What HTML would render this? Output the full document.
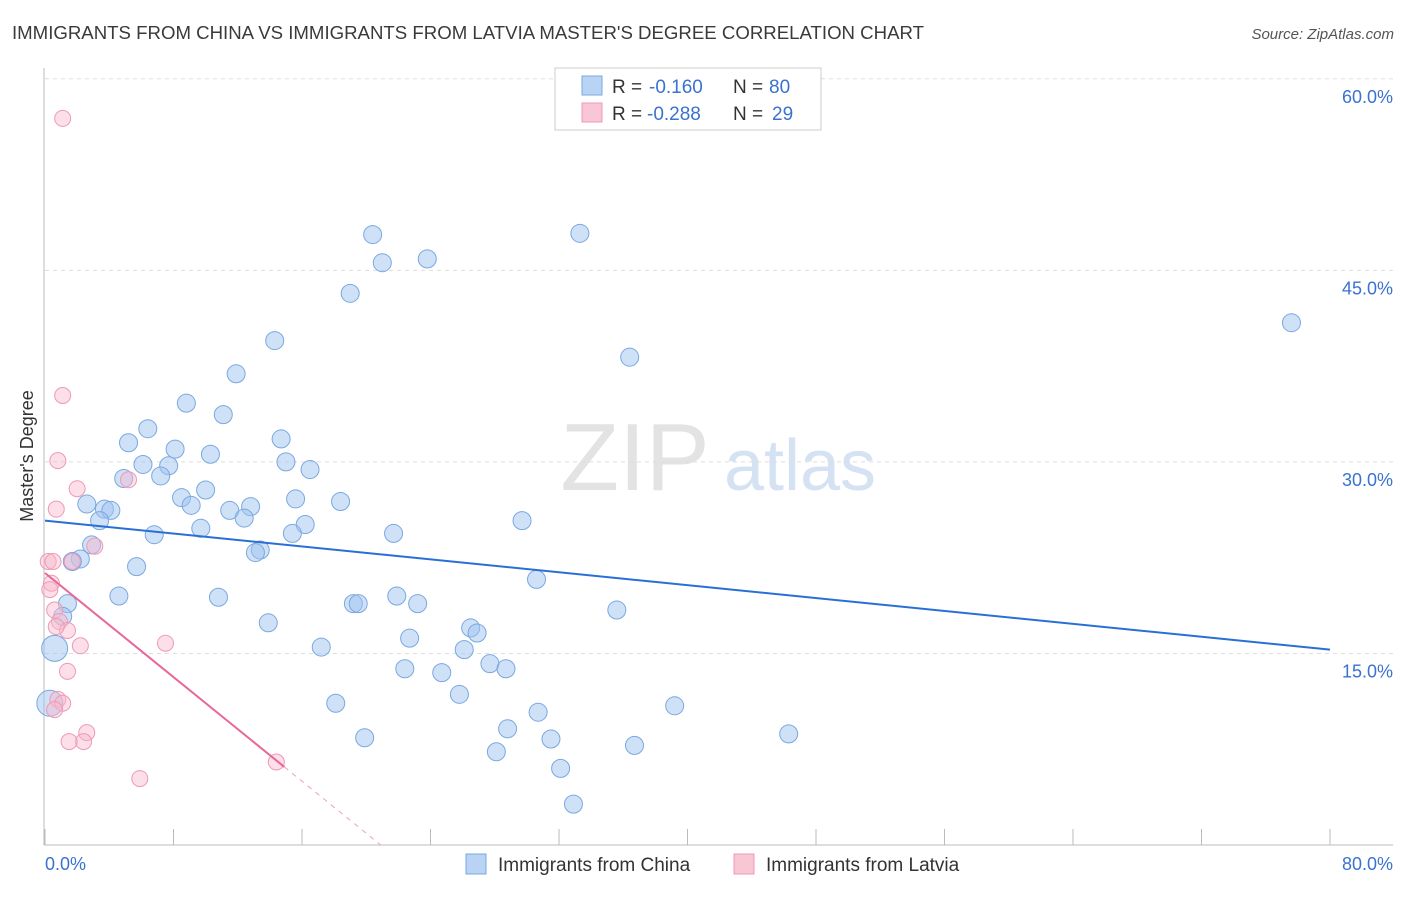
<!DOCTYPE html>
<html><head><meta charset="utf-8"><style>
body{margin:0;background:#fff;font-family:"Liberation Sans",sans-serif;}
svg text{font-family:"Liberation Sans",sans-serif;}
</style></head><body>
<svg id="chart" width="1406" height="892" xmlns="http://www.w3.org/2000/svg">
<text x="12" y="39" font-size="18.5" fill="#3a3a3a" textLength="912" lengthAdjust="spacingAndGlyphs">IMMIGRANTS FROM CHINA VS IMMIGRANTS FROM LATVIA MASTER'S DEGREE CORRELATION CHART</text>
<text x="1394" y="39" font-size="15" fill="#555" text-anchor="end" font-style="italic">Source: ZipAtlas.com</text>
<text transform="translate(33,456) rotate(-90)" font-size="18" fill="#333" text-anchor="middle">Master's Degree</text>
<g>
<text x="635" y="490" font-size="96" fill="#e3e3e3" text-anchor="middle" font-family="Liberation Serif">ZIP</text>
<text x="800" y="490" font-size="72" fill="#d5e2f3" text-anchor="middle">atlas</text>
</g>
<g id="grid"></g><g id="axes"></g><g id="marks"></g>
<g>
<rect x="555" y="68" width="266" height="62" fill="#fff" stroke="#ccc"/>
<rect x="582" y="76" width="20" height="19" fill="#b9d3f5" stroke="#7aa8e0"/>
<rect x="582" y="103" width="20" height="19" fill="#f9c6d6" stroke="#ee9ab5"/>
<text y="93" font-size="19" fill="#333"><tspan x="612">R =</tspan><tspan x="649" fill="#3a72d0">-0.160</tspan><tspan x="733">N =</tspan><tspan x="769" fill="#3a72d0">80</tspan></text>
<text y="120" font-size="19" fill="#333"><tspan x="612">R =</tspan><tspan x="647" fill="#3a72d0">-0.288</tspan><tspan x="733">N =</tspan><tspan x="772" fill="#3a72d0">29</tspan></text>
</g>
<g>
<rect x="466" y="854" width="20" height="20" fill="#b9d3f5" stroke="#7aa8e0"/>
<text x="498" y="871" font-size="19" fill="#333">Immigrants from China</text>
<rect x="734" y="854" width="20" height="20" fill="#f9c6d6" stroke="#ee9ab5"/>
<text x="766" y="871" font-size="19" fill="#333">Immigrants from Latvia</text>
</g>
</svg>
<script>
const yTicks=[15,30,45,60];
const yTickLabels=["15.0%","30.0%","45.0%","60.0%"];
const xTicks=[0,8,16,24,32,40,48,56,64,72,80];
const chinaX=[20.4,33.3,21.0,23.8,19.0,77.6,14.3,36.4,11.9,8.8,11.1,6.4,14.7,5.2,8.1,10.3,6.1,15.0,7.7,16.5,4.9,7.2,10.0,8.5,15.6,18.4,9.1,2.6,3.7,4.1,11.5,12.8,12.4,3.4,29.7,9.7,16.2,6.8,15.4,21.7,2.9,13.4,13.1,2.2,1.7,5.7,30.6,4.6,10.8,21.9,1.4,19.2,19.5,23.2,35.6,1.1,13.9,26.5,26.9,22.7,17.2,0.6,26.1,22.4,27.7,28.7,24.7,25.8,0.3,18.1,39.2,30.7,28.8,46.3,19.9,31.5,36.7,28.1,32.1,32.9];
const chinaY=[47.8,47.9,45.6,45.9,43.2,40.9,39.5,38.2,36.9,34.6,33.7,32.6,31.8,31.5,31.0,30.6,29.8,30.0,29.7,29.4,28.7,28.9,27.8,27.2,27.1,26.9,26.6,26.7,26.3,26.2,26.2,26.5,25.6,25.4,25.4,24.8,25.1,24.3,24.4,24.4,23.5,23.1,22.9,22.4,22.2,21.8,20.8,19.5,19.4,19.5,18.9,18.9,18.9,18.9,18.4,17.9,17.4,17.0,16.6,16.2,15.5,15.4,15.3,13.8,14.2,13.8,13.5,11.8,11.1,11.1,10.9,10.4,9.1,8.7,8.4,8.3,7.8,7.3,6.0,3.2];
const chinaBig=[61,68];
const latviaX=[1.1,1.1,0.8,2.0,0.7,5.2,3.1,0.2,0.5,1.7,0.4,0.6,0.9,1.4,0.7,2.2,7.5,1.4,0.8,1.1,0.6,2.6,2.4,1.5,5.9,14.4,0.3];
const latviaY=[56.9,35.2,30.1,27.9,26.3,28.6,23.4,22.2,22.2,22.2,20.5,18.4,17.5,16.8,17.1,15.6,15.8,13.6,11.4,11.1,10.6,8.8,8.1,8.1,5.2,6.5,20.0];
const chinaTrend=[25.4,15.3];
const latviaTrend=[21.3,14.9,20.9];
const X0=45,X1=1330,Y0=845,PX=12.77;
const sx=v=>X0+(v/80)*(X1-X0);
const sy=v=>Y0-v*PX;
const NS="http://www.w3.org/2000/svg";
function mk(tag,attrs,parent){const e=document.createElementNS(NS,tag);for(const k in attrs)e.setAttribute(k,attrs[k]);parent.appendChild(e);return e;}
const grid=document.getElementById('grid'),axes=document.getElementById('axes'),marks=document.getElementById('marks');
yTicks.forEach((t,i)=>{
 const l=mk('line',{x1:45,x2:1393,y1:sy(t),y2:sy(t),stroke:'#ddd','stroke-dasharray':'4,4'},grid);
 
 
 const tx=mk('text',{x:1393,y:sy(t)+24,'font-size':18,fill:'#3a72d0','text-anchor':'end'},grid);
 tx.textContent=yTickLabels[i];
 
 
});
const la=mk('line',{x1:44,x2:44,y1:68,y2:845,stroke:'#bbb'},axes);


const ba=mk('line',{x1:44,x2:1393,y1:845,y2:845,stroke:'#bbb'},axes);


xTicks.forEach(t=>{
 const l=mk('line',{x1:sx(t),x2:sx(t),y1:829,y2:845,stroke:'#bbb'},axes);
 
 
});
const xl0=mk('text',{x:45,y:870,'font-size':18,fill:'#3a72d0'},axes);xl0.textContent='0.0%';


const xl1=mk('text',{x:1393,y:870,'font-size':18,fill:'#3a72d0','text-anchor':'end'},axes);xl1.textContent='80.0%';


chinaX.forEach((x,i)=>{
 const c=mk('circle',{cx:sx(x),cy:sy(chinaY[i]),r:chinaBig.includes(i)?13:9,fill:'rgba(160,195,240,0.5)',stroke:'#7aa8e0','stroke-width':1},marks);
 
 
});
latviaX.forEach((x,i)=>{
 const c=mk('circle',{cx:sx(x),cy:sy(latviaY[i]),r:8,fill:'rgba(248,185,205,0.45)',stroke:'#ee9ab5','stroke-width':1},marks);
 
 
});
const bt=mk('line',{x1:sx(0),y1:sy(chinaTrend[0]),x2:sx(80),y2:sy(chinaTrend[1]),stroke:'#2a6fd6','stroke-width':2},marks);


const m=(0-latviaTrend[0])/latviaTrend[2];
const pt=mk('line',{x1:sx(0),y1:sy(latviaTrend[0]),x2:sx(latviaTrend[1]),y2:sy(latviaTrend[0]+m*latviaTrend[1]),stroke:'#e8669a','stroke-width':2},marks);


const pd=mk('line',{x1:sx(latviaTrend[1]),y1:sy(latviaTrend[0]+m*latviaTrend[1]),x2:sx(latviaTrend[2]),y2:sy(0),stroke:'#f0a0bd','stroke-width':1,'stroke-dasharray':'5,5'},marks);


</script>
</body></html>
